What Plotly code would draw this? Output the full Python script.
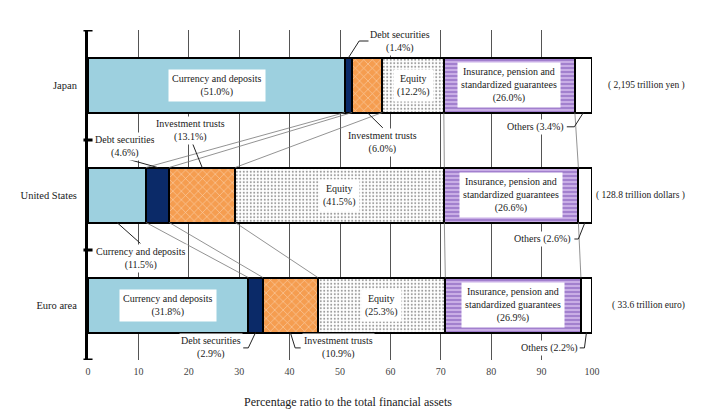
import plotly.graph_objects as go
import numpy as np

# ---------------- data ----------------
regions = ["Japan", "United States", "Euro area"]
totals = ["( 2,195 trillion yen )", "( 128.8 trillion dollars )", "( 33.6 trillion euro)"]
components = ["Currency and deposits", "Debt securities", "Investment trusts", "Equity",
              "Insurance, pension and<br>standardized guarantees", "Others"]
japan = [51.0, 1.4, 6.0, 12.2, 26.0, 3.4]
united_states = [11.5, 4.6, 13.1, 41.5, 26.6, 2.6]
euro_area = [31.8, 2.9, 10.9, 25.3, 26.9, 2.2]
x_ticks = [0, 10, 20, 30, 40, 50, 60, 70, 80, 90, 100]
x_title = "Percentage ratio to the total financial assets"

values = np.array([japan, united_states, euro_area])
cum_end = np.cumsum(values, axis=1)
cum_start = cum_end - values
mids = (cum_start + cum_end) / 2
ypos = np.arange(len(regions))

# ---------------- styles ----------------
FONT = '"Liberation Serif", "Times New Roman", Times, serif'
BAR_W = 0.5
TXT = "#1a1a1a"
styles = [
    dict(color="#9dd0df"),
    dict(color="#0b2a68"),
    dict(color="#f59d50", pattern=dict(shape="x", fgcolor="white", bgcolor="#f59d50",
                                       size=6, solidity=0.2)),
    dict(color="white", pattern=dict(shape=".", fgcolor="#333", bgcolor="white",
                                     size=3.5, solidity=0.26)),
    dict(color="#c2a5e2", pattern=dict(shape="-", fgcolor="#7446b2", bgcolor="#c9aee6",
                                       size=4, solidity=0.45)),
    dict(color="white"),
]

fig = go.Figure()

# connector lines between bars (segment boundaries)
cx, cy = [], []
for r in range(len(regions) - 1):
    for k in range(values.shape[1] - 1):
        cx += [cum_end[r, k], cum_end[r + 1, k], None]
        cy += [ypos[r] + BAR_W / 2, ypos[r + 1] - BAR_W / 2, None]
fig.add_trace(go.Scatter(x=cx, y=cy, mode="lines", line=dict(color="#777", width=0.8),
                         hoverinfo="skip", showlegend=False))

# stacked bars
for i, comp in enumerate(components):
    st = styles[i]
    marker = dict(color=st["color"], line=dict(color="black", width=2))
    if "pattern" in st:
        marker["pattern"] = st["pattern"]
    fig.add_trace(go.Bar(x=values[:, i], y=ypos, orientation="h", width=BAR_W,
                         marker=marker, name=comp.replace("<br>", " "), showlegend=False))

ann = []
# labels inside segments
inside = [(0, 0), (0, 3), (0, 4), (1, 3), (1, 4), (2, 0), (2, 3), (2, 4)]
for r, c in inside:
    ann.append(dict(x=mids[r, c], y=ypos[r], xref="x", yref="y",
                    text=f"{components[c]}<br>({values[r, c]:.1f}%)", showarrow=False,
                    bgcolor="white", borderpad=3, font=dict(family=FONT, size=10, color=TXT)))

# labels outside with leader lines: (region, component, label x, label y, side, waypoints)
outside = [
    (0, 1, 61.9, -0.40, "top", [(53.8, -0.40), (55.9, -0.40)]),
    (0, 2, 58.5, 0.52, "bottom", [(58.5, 0.39)]),
    (0, 5, 88.8, 0.38, "bottom", [(96.5, 0.38), (95.0, 0.38)]),
    (1, 1, 7.4, 0.56, "top", [(7.8, 0.673)]),
    (1, 2, 20.3, 0.41, "top", [(20.7, 0.527)]),
    (1, 0, 10.6, 1.58, "bottom", [(10.4, 1.44)]),
    (1, 5, 90.2, 1.40, "bottom", [(97.3, 1.40), (96.5, 1.40)]),
    (2, 1, 24.5, 2.39, "bottom", [(31.8, 2.39), (30.8, 2.39)]),
    (2, 2, 49.8, 2.39, "bottom", [(41.1, 2.39), (42.2, 2.39)]),
    (2, 5, 91.6, 2.39, "bottom", [(98.5, 2.39), (97.5, 2.39)]),
]
lx, ly = [], []
for r, c, tx, ty, side, pts in outside:
    y0 = ypos[r] - BAR_W / 2 if side == "top" else ypos[r] + BAR_W / 2
    lx += [mids[r, c]] + [p[0] for p in pts] + [None]
    ly += [y0] + [p[1] for p in pts] + [None]
    if c == 5:
        txt = f"{components[c]} ({values[r, c]:.1f}%)"
    else:
        txt = f"{components[c]}<br>({values[r, c]:.1f}%)"
    ann.append(dict(x=tx, y=ty, xref="x", yref="y", text=txt, showarrow=False,
                    bgcolor="white", borderpad=1, font=dict(family=FONT, size=10, color=TXT)))
fig.add_trace(go.Scatter(x=lx, y=ly, mode="lines", line=dict(color="#222", width=1),
                         hoverinfo="skip", showlegend=False))

# totals on the right
for r, t in enumerate(totals):
    ann.append(dict(x=1.189, y=ypos[r], xref="paper", yref="y", text=t, showarrow=False,
                    xanchor="right", font=dict(family=FONT, size=9.5, color=TXT)))

# axis title
ann.append(dict(x=0.516, y=-0.127, xref="paper", yref="paper", text=x_title, showarrow=False,
                xanchor="center", yanchor="middle", font=dict(family=FONT, size=12, color=TXT)))

# y axis tick marks at category boundaries
shapes = []
for b in np.arange(-0.5, len(regions), 1.0):
    shapes.append(dict(type="line", xref="paper", yref="y", x0=-0.009, x1=0.009, y0=b, y1=b,
                       line=dict(color="black", width=3)))

fig.update_layout(
    width=709, height=407,
    margin=dict(l=79.5, r=124.5, t=22, b=55),
    paper_bgcolor="white", plot_bgcolor="white",
    barmode="stack", bargap=0,
    annotations=ann, shapes=shapes,
    font=dict(family=FONT, color=TXT),
    xaxis=dict(range=[0, 100], tickvals=x_ticks, showgrid=True, gridcolor="#555", gridwidth=1,
               zeroline=False, showline=False, ticks="", ticklabelstandoff=4,
               tickfont=dict(family=FONT, size=10, color="#444")),
    yaxis=dict(range=[len(regions) - 0.5, -0.5], tickvals=ypos, ticktext=regions,
               showgrid=False, zeroline=False, showline=True, linecolor="black", linewidth=3,
               ticks="", ticklabelstandoff=6, tickfont=dict(family=FONT, size=10.5, color=TXT)),
)

fig.write_html("out.html")
